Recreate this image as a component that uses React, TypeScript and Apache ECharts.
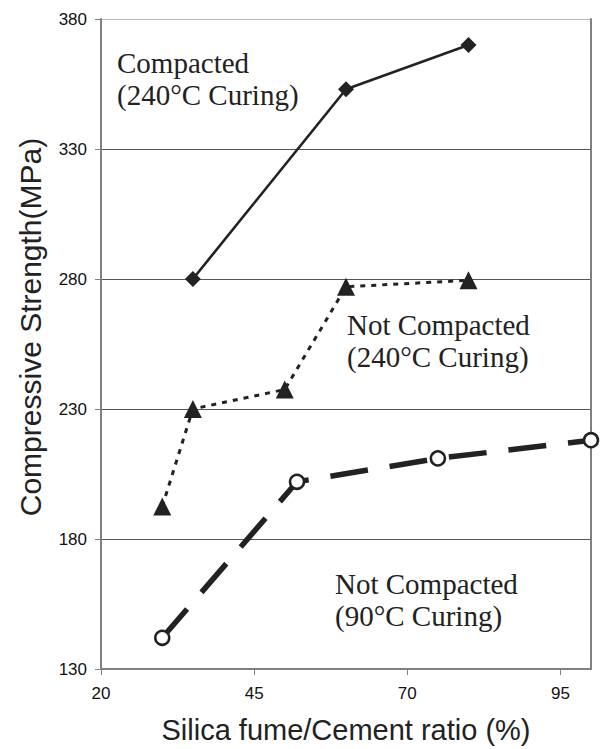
import React, { useEffect, useRef } from "react";
import * as echarts from "echarts";

const compactedX = [35, 60, 80];
const compactedY = [280, 353, 370];

const nc240X = [30, 35, 50, 60, 80];
const nc240Y = [192.5, 230, 237.5, 277, 279.5];

const nc90X = [30, 52, 75, 100];
const nc90Y = [142, 202, 211, 218];

const xTitle = "Silica fume/Cement ratio (%)";
const yTitle = "Compressive Strength(MPa)";

const annotations = [
  { text: "Compacted\n(240°C Curing)", left: 117, top: 47 },
  { text: "Not Compacted\n(240°C Curing)", left: 347, top: 309 },
  { text: "Not Compacted\n(90°C Curing)", left: 335, top: 568 },
];

const pairs = (xs: number[], ys: number[]) => xs.map((x, i) => [x, ys[i]]);

export default function App() {
  const ref = useRef<HTMLDivElement>(null);
  useEffect(() => {
    document.body.style.margin = "0";
    if (!ref.current) return;
    const chart = echarts.init(ref.current, undefined, { renderer: "svg" });
    const sans = "Liberation Sans, Arial, sans-serif";
    const serif = "Liberation Serif, Times New Roman, serif";
    chart.setOption({
      animation: false,
      backgroundColor: "#ffffff",
      grid: { left: 101, right: 10, top: 19, bottom: 79, containLabel: false },
      xAxis: {
        type: "value",
        min: 20,
        max: 100,
        interval: 25,
        name: xTitle,
        nameLocation: "middle",
        nameGap: 46,
        nameTextStyle: { fontFamily: sans, fontSize: 29, color: "#222" },
        axisLine: { show: true, lineStyle: { color: "#808080", width: 2 } },
        axisTick: { show: true, length: 6, lineStyle: { color: "#808080", width: 1 } },
        axisLabel: {
          fontFamily: sans,
          fontSize: 17,
          color: "#111",
          margin: 16,
          showMaxLabel: false,
        },
        splitLine: { show: false },
      },
      yAxis: [
        {
          type: "value",
          min: 130,
          max: 380,
          interval: 50,
          name: yTitle,
          nameLocation: "middle",
          nameGap: 56,
          nameRotate: 90,
          nameTextStyle: {
            fontFamily: sans,
            fontSize: 30,
            color: "#222",
            padding: [0, 0, 0, 34],
          },
          axisLine: { show: true, lineStyle: { color: "#808080", width: 2 } },
          axisTick: { show: true, length: 6, lineStyle: { color: "#808080", width: 1 } },
          axisLabel: { fontFamily: sans, fontSize: 17, color: "#111", margin: 14 },
          splitLine: {
            show: true,
            lineStyle: {
              color: ["#808080", "#555555", "#555555", "#555555", "#555555", "#bbbbbb"],
              width: 1,
            },
          },
        },
        {
          type: "value",
          position: "right",
          min: 130,
          max: 380,
          interval: 50,
          axisLine: { show: true, lineStyle: { color: "#808080", width: 2 } },
          axisTick: { show: false },
          axisLabel: { show: false },
          splitLine: { show: false },
        },
      ],
      series: [
        {
          name: "Compacted (240°C Curing)",
          type: "line",
          data: pairs(compactedX, compactedY),
          symbol: "diamond",
          symbolSize: 16,
          lineStyle: { color: "#222", width: 2.6, type: "solid" },
          itemStyle: { color: "#222" },
          clip: false,
        },
        {
          name: "Not Compacted (240°C Curing)",
          type: "line",
          data: pairs(nc240X, nc240Y),
          symbol: "triangle",
          symbolSize: 18,
          lineStyle: { color: "#222", width: 3, type: [5, 6] },
          itemStyle: { color: "#222" },
          clip: false,
        },
        {
          name: "Not Compacted (90°C Curing)",
          type: "line",
          data: pairs(nc90X, nc90Y),
          symbol: "circle",
          symbolSize: 14,
          lineStyle: { color: "#222", width: 5.5, type: [38, 22] },
          itemStyle: { color: "#ffffff", borderColor: "#222", borderWidth: 2.5 },
          clip: false,
          z: 3,
        },
      ],
      graphic: annotations.map((a) => ({
        type: "text",
        left: a.left,
        top: a.top,
        z: 10,
        style: {
          text: a.text,
          fontFamily: serif,
          fontSize: 29,
          lineHeight: 32,
          fill: "#222",
        },
      })),
    });
    return () => chart.dispose();
  }, []);
  return <div ref={ref} style={{ width: 601, height: 749 }} />;
}
